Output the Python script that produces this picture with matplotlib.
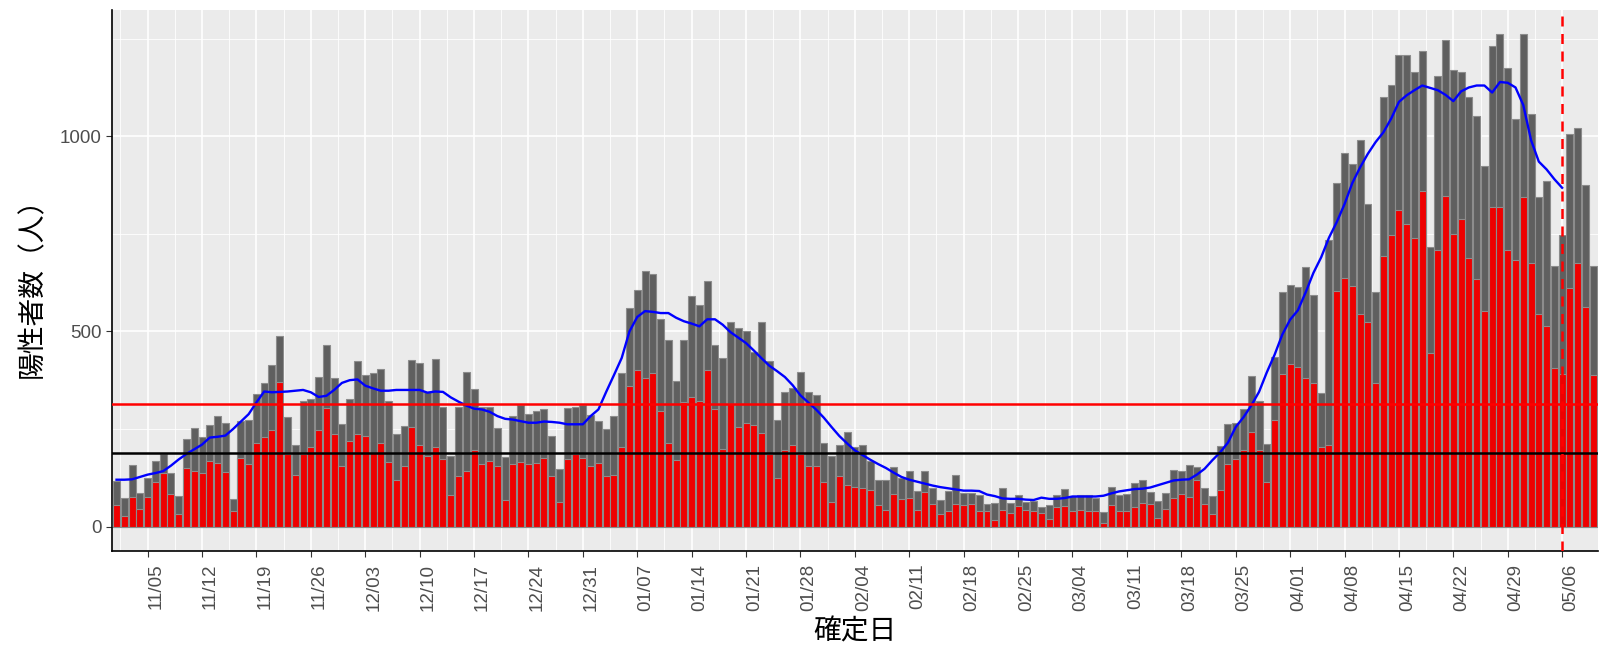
import numpy as np
import pandas as pd
import matplotlib
matplotlib.use("Agg")
import matplotlib.pyplot as plt
import matplotlib.dates as mdates

plt.rcParams["font.family"] = ["Liberation Sans", "Noto Sans CJK JP"]

# daily positives (gray = total, red = subset), 2020-11-01 .. 2021-05-10
total = [
    116, 73, 157, 85, 124, 167, 185, 137, 77, 225, 253, 229, 261, 283, 265, 70,
    271, 273, 339, 369, 415, 487, 281, 209, 322, 326, 382, 465, 381, 262, 326, 425,
    389, 393, 404, 322, 236, 258, 427, 420, 344, 430, 307, 180, 307, 397, 352,
    307, 307, 252, 179, 283, 311, 288, 295, 300, 233, 148, 303, 307, 311, 285, 270,
    249, 283, 393, 561, 606, 655, 647, 531, 479, 374, 479, 590, 567, 629, 464, 432,
    524, 509, 501, 448, 524, 423, 273, 344, 355, 397, 344, 336, 213, 180, 209, 243,
    204, 210, 168, 118, 119, 152, 125, 143, 90, 143, 99, 69, 90, 131, 86,
    86, 82, 58, 60, 100, 60, 82, 64, 66, 51, 56, 82, 97, 78, 80, 80,
    73, 37, 101, 82, 83, 112, 120, 88, 66, 86, 144, 142, 157, 153, 100, 77,
    206, 262, 266, 300, 385, 322, 212, 434, 602, 618, 614, 666, 594, 341, 733,
    879, 958, 928, 990, 827, 601, 1100, 1132, 1207, 1207, 1164, 1218, 717, 1155, 1246, 1170,
    1164, 1100, 1051, 925, 1230, 1261, 1174, 1045, 1261, 1058, 844, 886, 668, 747, 1007, 1022, 876, 668,
]
subset = [
    54, 27, 76, 46, 76, 113, 136, 83, 31, 150, 143, 136, 169, 162, 139, 39,
    176, 159, 215, 229, 248, 371, 185, 133, 185, 204, 248, 305, 236, 155, 218, 236,
    233, 189, 215, 166, 118, 156, 256, 210, 180, 204, 174, 80, 129, 143, 195,
    159, 169, 156, 69, 159, 166, 159, 162, 176, 129, 62, 174, 185, 176, 156, 162,
    129, 133, 204, 361, 401, 381, 393, 296, 215, 170, 320, 331, 322, 401, 301, 199,
    315, 256, 266, 259, 240, 185, 125, 195, 210, 185, 155, 155, 113, 62, 129, 107,
    102, 99, 94, 54, 43, 83, 70, 73, 43, 88, 58, 32, 39, 58, 56,
    58, 39, 39, 17, 43, 34, 53, 43, 39, 34, 20, 51, 53, 39, 43, 41,
    39, 9, 54, 41, 39, 49, 60, 58, 23, 46, 73, 83, 76, 119, 58, 32,
    94, 159, 174, 197, 241, 197, 114, 272, 391, 417, 410, 380, 369, 204, 210,
    604, 638, 616, 544, 524, 368, 694, 746, 812, 776, 739, 861, 444, 709, 846, 749,
    788, 687, 634, 552, 818, 818, 709, 683, 844, 674, 545, 515, 405, 391, 612, 674, 563, 387,
]
# 7-day average line, 2020-11-01 .. 2021-05-06
avg7 = [
    120, 120, 121, 127, 133, 137, 142, 156, 172, 186, 198, 210, 228, 230, 233, 250,
    269, 288, 318, 346, 344, 345, 346, 348, 350, 344, 332, 335, 350, 368, 375, 377,
    361, 354, 348, 348, 350, 350, 350, 350, 343, 346, 345, 331, 320, 310, 302,
    300, 294, 283, 276, 274, 270, 266, 266, 269, 268, 266, 262, 262, 262, 283, 300,
    345, 388, 432, 500, 537, 552, 550, 547, 547, 535, 526, 520, 513, 531, 531, 517,
    498, 484, 470, 451, 431, 412, 398, 383, 362, 336, 318, 300, 279, 255, 232, 213,
    195, 183, 171, 160, 150, 138, 127, 120, 115, 110, 105, 101, 98, 95, 92,
    92, 91, 82, 78, 72, 71, 71, 69, 68, 74, 71, 71, 73, 77, 77, 77,
    77, 79, 85, 90, 93, 96, 97, 100, 106, 112, 118, 120, 121, 133, 148, 170,
    190, 215, 255, 280, 310, 345, 395, 440, 492, 530, 554, 600, 650, 690, 740,
    780, 826, 880, 920, 955, 985, 1010, 1045, 1088, 1105, 1118, 1130, 1124, 1118, 1106, 1090,
    1115, 1125, 1130, 1130, 1112, 1139, 1137, 1125, 1080, 990, 935, 915, 890, 868,
]
line_red = 314
line_black = 188
mark_date = "2021-05-06"

dates = pd.date_range("2020-11-01", periods=len(total), freq="D")
avg_dates = pd.date_range("2020-11-01", periods=len(avg7), freq="D")

fig = plt.figure(figsize=(16, 6.53), dpi=100)
ax = fig.add_axes([0.07, 0.156, 0.929, 0.829])
ax.set_facecolor("#EBEBEB")

ax.bar(dates, total, width=0.9, color="#5F5F5F", edgecolor="#8C8C8C", lw=0.8, zorder=3)
ax.bar(dates, subset, width=0.9, color="#EE0000", edgecolor="#8C8C8C", lw=0.8, zorder=4)
ax.plot(avg_dates, avg7, color="#0000FF", lw=1.7, zorder=5)
ax.axhline(line_red, color="#FF0000", lw=1.8, zorder=6)
ax.axhline(line_black, color="black", lw=1.8, zorder=6)
ax.axvline(pd.Timestamp(mark_date), color="#FF0000", ls=(0, (4, 3)), lw=1.8, zorder=6)

ax.set_xlim(dates[0] - pd.Timedelta(hours=14), dates[-1] + pd.Timedelta(hours=16))
ax.set_ylim(-63, 1324)

major = pd.date_range("2020-11-05", "2021-05-06", freq="7D")
minor = major - pd.Timedelta(hours=84)
ax.set_xticks(major)
ax.set_xticks(minor, minor=True)
ax.xaxis.set_major_formatter(mdates.DateFormatter("%m/%d"))
ax.set_yticks([0, 500, 1000])
ax.set_yticks([250, 750, 1250], minor=True)

ax.grid(True, which="major", color="white", lw=1.2, zorder=0)
ax.grid(True, which="minor", color="white", lw=0.6, zorder=0)
ax.set_axisbelow(True)

for s in ["top", "right"]:
    ax.spines[s].set_visible(False)
for s in ["left", "bottom"]:
    ax.spines[s].set_color("black")
    ax.spines[s].set_linewidth(1.2)

ax.tick_params(which="major", length=4, color="#333333", labelcolor="#4D4D4D", labelsize=13.5)
ax.tick_params(axis="x", which="major", pad=5)
ax.tick_params(which="minor", length=0)
for lab in ax.get_xticklabels():
    lab.set_rotation(90)
    lab.set_ha("left")

ax.set_ylabel("陽性者数（人）", fontsize=20, labelpad=10)
ax.set_xlabel("確定日", fontsize=20, labelpad=6)

fig.savefig("out.png", dpi=100)
